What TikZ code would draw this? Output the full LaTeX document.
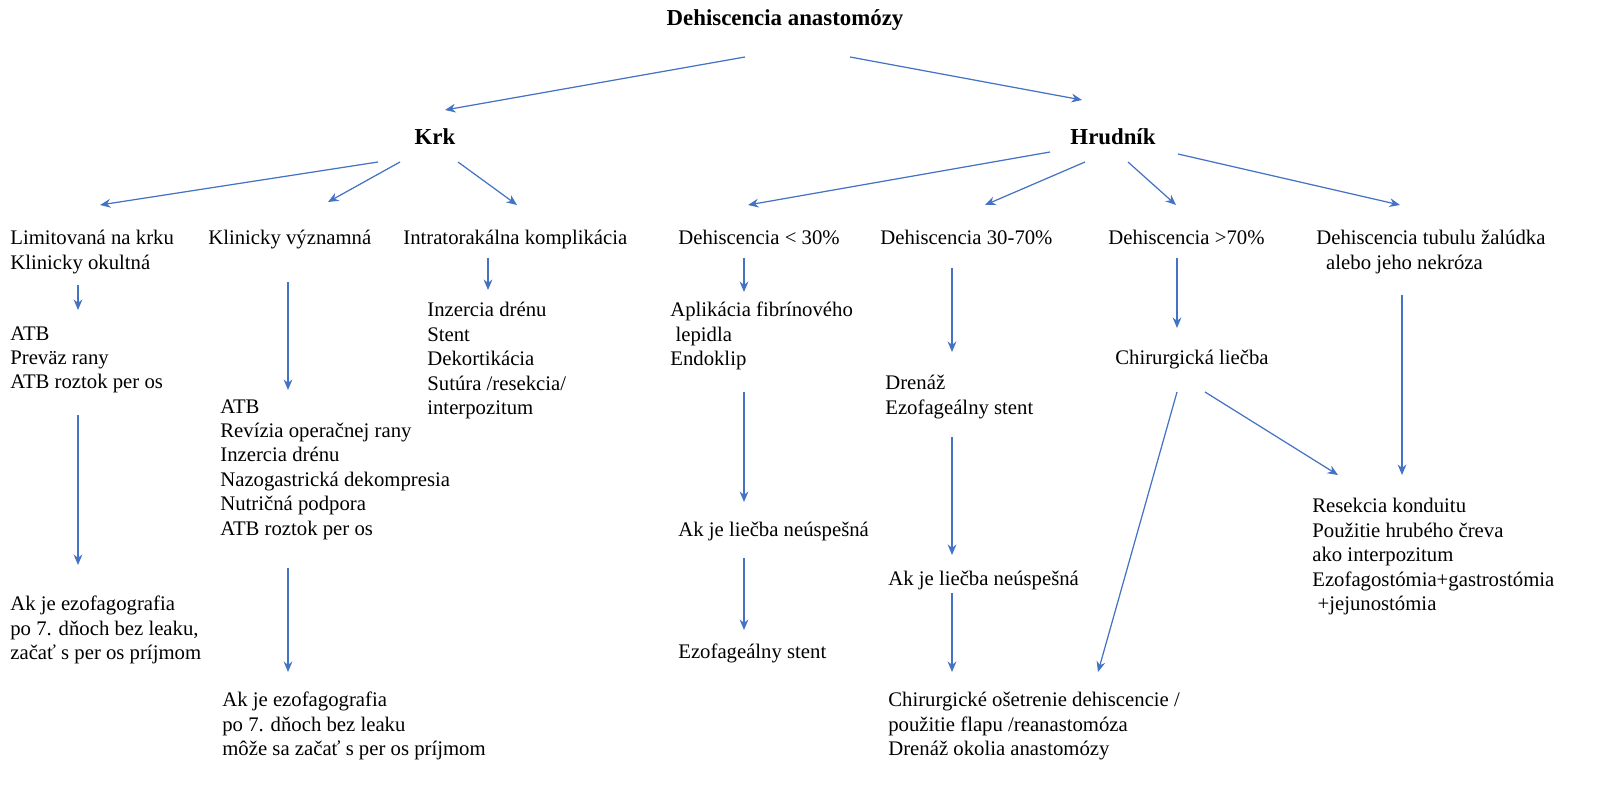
\documentclass[tikz,border=0pt]{standalone}
\usepackage{fontspec}
\setmainfont{Liberation Serif}
\usetikzlibrary{arrows.meta}
\definecolor{arrowblue}{HTML}{4472C4}
\tikzset{
  txt/.style={anchor=north west, inner sep=0pt, align=left, font=\fontsize{11.8}{13.9}\selectfont},
  head/.style={inner sep=0pt, font=\fontsize{13}{15}\selectfont\bfseries},
  arr/.style={draw=arrowblue, line width=0.7pt, -{Stealth[length=6pt,width=5pt]}}
}
\begin{document}
\begin{tikzpicture}[x=0.02cm, y=-0.02cm]
        \useasboundingbox (0,0) rectangle (1598,800);
        % Headings
        \node[head] (title) at (785,20) {Dehiscencia anastomózy};
        \node[head] (krk) at (435,137) {Krk};
        \node[head] (hrud) at (1113,137) {Hrudník};
        % First row
        \node[txt] (limit) at (10,230) {Limitovaná na krku\\Klinicky okultná};
        \node[txt] (klin) at (208,230) {Klinicky významná};
        \node[txt] (intra) at (403,230) {Intratorakálna komplikácia};
        \node[txt] (d30) at (678,230) {Dehiscencia {<} 30\%};
        \node[txt] (d3070) at (880,230) {Dehiscencia 30-70\%};
        \node[txt] (d70) at (1108,230) {Dehiscencia {>}70\%};
        \node[txt] (tubul) at (1316,230) {Dehiscencia tubulu žalúdka\\\hspace*{14\pgflinewidth}alebo jeho nekróza};
        % Krk branches
        \node[txt] (atb1) at (10,326) {ATB\\Preväz rany\\ATB roztok per os};
        \node[txt] (ak1) at (10,596) {Ak je ezofagografia\\po 7. dňoch bez leaku,\\začať s per os príjmom};
        \node[txt] (atb2) at (220,399) {ATB\\Revízia operačnej rany\\Inzercia drénu\\Nazogastrická dekompresia\\Nutričná podpora\\ATB roztok per os};
        \node[txt] (ak2) at (222,692) {Ak je ezofagografia\\po 7. dňoch bez leaku\\môže sa začať s per os príjmom};
        \node[txt] (inz) at (427,302) {Inzercia drénu\\Stent\\Dekortikácia\\Sutúra /resekcia/\\interpozitum};
        % Hrudnik branches
        \node[txt] (apl) at (670,302) {Aplikácia fibrínového\\\hspace*{3pt}lepidla\\Endoklip};
        \node[txt] (neusp1) at (678,522) {Ak je liečba neúspešná};
        \node[txt] (stent1) at (678,644) {Ezofageálny stent};
        \node[txt] (dren) at (885,375) {Drenáž\\Ezofageálny stent};
        \node[txt] (neusp2) at (888,571) {Ak je liečba neúspešná};
        \node[txt] (chos) at (888,692) {Chirurgické ošetrenie dehiscencie /\\použitie flapu /reanastomóza\\Drenáž okolia anastomózy};
        \node[txt] (chl) at (1115,350) {Chirurgická liečba};
        \node[txt] (res) at (1312,498) {Resekcia konduitu\\Použitie hrubého čreva\\ako interpozitum\\Ezofagostómia+gastrostómia\\\hspace*{3pt}+jejunostómia};
        % Arrows
        \foreach \xa/\ya/\xb/\yb in {745/57/445/110, 850/57/1082/100,
            378/162/100/205, 400/162/328/202, 458/162/517/205,
            1050/152/748/205, 1085/162/985/205, 1128/162/1176/205, 1178/154/1400/205,
            78/285/78/310, 78/415/78/565, 288/282/288/390, 288/568/288/672,
            488/258/488/290, 744/258/744/292, 744/392/744/502, 744/558/744/630,
            952/268/952/352, 952/437/952/555, 952/593/952/672,
            1177/258/1177/328, 1177/392/1098/672, 1205/392/1338/475, 1402/295/1402/475}
        {
          \coordinate (s) at (\xa,\ya);
          \coordinate (e) at (\xb,\yb);
          \draw[arr] (s) -- (e);
        }
\end{tikzpicture}
\end{document}
